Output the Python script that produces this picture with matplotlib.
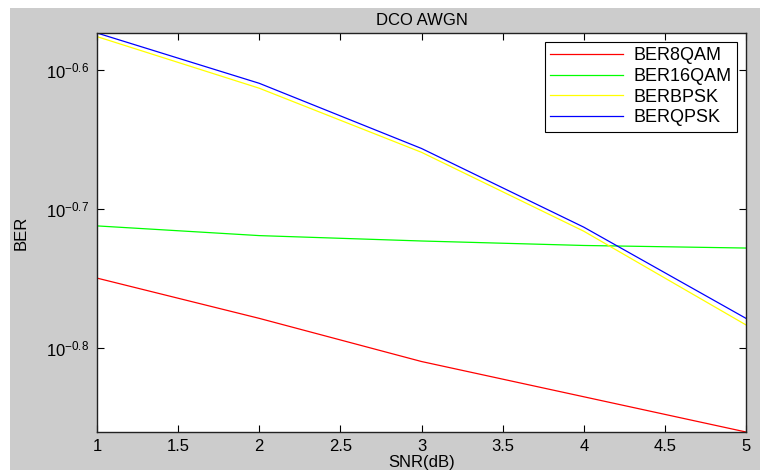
import numpy as np
import matplotlib.pyplot as plt
from matplotlib.patches import Rectangle

plt.rcParams['font.family'] = ['Liberation Sans', 'DejaVu Sans']
plt.rcParams['mathtext.fontset'] = 'custom'
plt.rcParams['mathtext.rm'] = 'Liberation Sans'
plt.rcParams['mathtext.it'] = 'Liberation Sans:italic'
plt.rcParams['mathtext.bf'] = 'Liberation Sans:bold'

# dane
snr = [1, 2, 3, 4, 5]
ber_8qam = [0.1779, 0.1664, 0.1549, 0.1461, 0.1378]
ber_16qam = [0.1940, 0.1909, 0.1892, 0.1878, 0.1870]
ber_bpsk = [0.2656, 0.2438, 0.2192, 0.1923, 0.1646]
ber_qpsk = [0.2672, 0.2458, 0.2206, 0.1936, 0.1664]

y_ticks = [10 ** -0.8, 10 ** -0.7, 10 ** -0.6]
y_tick_labels = [r'$\mathrm{10^{-0.8}}$', r'$\mathrm{10^{-0.7}}$', r'$\mathrm{10^{-0.6}}$']
x_ticks = [1, 1.5, 2, 2.5, 3, 3.5, 4, 4.5, 5]

fig = plt.figure(figsize=(7.6, 4.7), dpi=100)
fig.patch.set_facecolor('white')
# szare tlo jak w MATLAB
fig.add_artist(Rectangle((10 / 760, 0), 750 / 760, 462 / 470,
                         transform=fig.transFigure, facecolor='#cccccc',
                         edgecolor='none', zorder=-10))

ax = fig.add_axes([97 / 760, 1 - 432 / 470, 649 / 760, 399 / 470])
ax.set_facecolor('white')

lw = 0.9
ax.plot(snr, ber_8qam, color='#ff0000', lw=lw, label='BER8QAM')
ax.plot(snr, ber_16qam, color='#00ff00', lw=lw, label='BER16QAM')
ax.plot(snr, ber_bpsk, color='#ffff00', lw=lw, label='BERBPSK')
ax.plot(snr, ber_qpsk, color='#0000ff', lw=lw, label='BERQPSK')

ax.set_yscale('log')
ax.set_xlim(1, 5)
all_vals = ber_8qam + ber_16qam + ber_bpsk + ber_qpsk
ax.set_ylim(min(all_vals), max(all_vals))
ax.yaxis.set_major_locator(plt.FixedLocator(y_ticks))
ax.yaxis.set_minor_locator(plt.NullLocator())
ax.yaxis.set_major_formatter(plt.FixedFormatter(y_tick_labels))
ax.yaxis.set_minor_formatter(plt.NullFormatter())
ax.set_xticks(x_ticks)
ax.set_xticklabels(['1', '1.5', '2', '2.5', '3', '3.5', '4', '4.5', '5'])

ax.tick_params(direction='in', top=True, right=True, length=5, width=0.8,
               labelsize=12, pad=5)
ax.tick_params(axis='y', pad=6)
for s in ax.spines.values():
    s.set_linewidth(1.0)
    s.set_color('#222222')

ax.set_title('DCO AWGN', fontsize=12, pad=6)
ax.set_xlabel('SNR(dB)', fontsize=12, labelpad=1)
ax.set_ylabel('BER', fontsize=12, labelpad=12)

leg = ax.legend(loc='upper right', fontsize=13, fancybox=False,
                edgecolor='black', framealpha=1, handlelength=4.0,
                handletextpad=0.6, borderaxespad=0.5, labelspacing=0.2,
                borderpad=0.3)
leg.get_frame().set_linewidth(0.8)

plt.savefig('out.png', dpi=100)
